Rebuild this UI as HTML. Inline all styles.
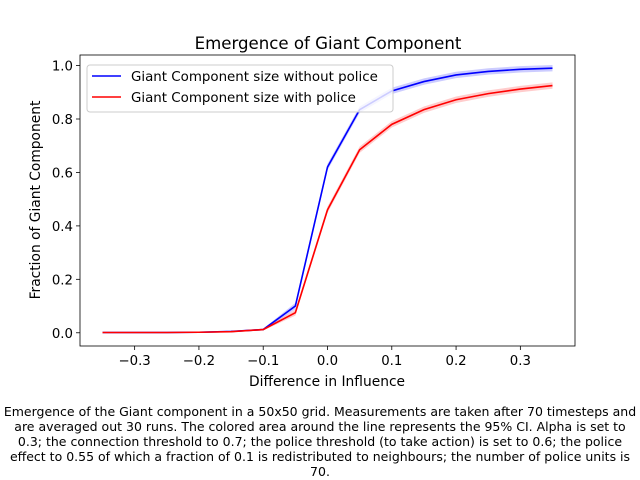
<!DOCTYPE html>
<html><head><meta charset="utf-8"><style>
body{margin:0;background:#fff;font-family:"DejaVu Sans","Liberation Sans",sans-serif}
#cap{position:absolute;left:0;top:404px;width:640px;text-align:center;font-size:12.5px;line-height:15px;color:#000;white-space:nowrap}
</style></head><body>
<svg id="chart" width="640" height="480" style="position:absolute;left:0;top:0" font-family="DejaVu Sans, Liberation Sans, sans-serif"></svg>
<div id="cap">Emergence of the Giant component in a 50x50 grid. Measurements are taken after 70 timesteps and<br>are averaged out 30 runs. The colored area around the line represents the 95% CI. Alpha is set to<br>0.3; the connection threshold to 0.7; the police threshold (to take action) is set to 0.6; the police<br>effect to 0.55 of which a fraction of 0.1 is redistributed to neighbours; the number of police units is<br>70.</div>
<script>
const xs=[-0.35,-0.3,-0.25,-0.2,-0.15,-0.1,-0.05,0,0.05,0.1,0.15,0.2,0.25,0.3,0.35];
const noPolice=[0.001,0.001,0.001,0.002,0.005,0.012,0.1,0.62,0.835,0.905,0.94,0.965,0.978,0.986,0.99];
const withPolice=[0.001,0.001,0.001,0.002,0.004,0.012,0.075,0.46,0.685,0.78,0.835,0.872,0.895,0.912,0.925];
const xTicks=[-0.3,-0.2,-0.1,0.0,0.1,0.2,0.3];
const xTickLabels=["−0.3","−0.2","−0.1","0.0","0.1","0.2","0.3"];
const yTicks=[0,0.2,0.4,0.6,0.8,1.0];
const yTickLabels=["0.0","0.2","0.4","0.6","0.8","1.0"];
const L=80,R=575,T=55,B=346;
const sx=v=>L+(v+0.385)/0.77*(R-L);
const sy=v=>B-(v+0.0495)/1.089*(B-T);
const svg=document.getElementById('chart');
const NS='http://www.w3.org/2000/svg';
function mk(t,a,p){const e=document.createElementNS(NS,t);for(const k in a)e.setAttribute(k,a[k]);(p||svg).appendChild(e);return e;}
let e;
e=mk('text',{x:328,y:49,'text-anchor':'middle','font-size':16.6});e.textContent='Emergence of Giant Component';


function series(vals,col,name){
  const w=v=>Math.min(0.012,v*0.12+0.002);
  let band=xs.map((x,i)=>sx(x)+','+sy(vals[i]+w(vals[i]))).join(' ')+' '+xs.map((x,i)=>sx(x)+','+sy(vals[i]-w(vals[i]))).reverse().join(' ');
  let b=mk('polygon',{points:band,fill:col,'fill-opacity':0.2,stroke:'none'});
  
  
  let l=mk('polyline',{points:xs.map((x,i)=>sx(x)+','+sy(vals[i])).join(' '),fill:'none',stroke:col,'stroke-width':1.6});
  
  
}
series(noPolice,'#0000ff','without-police');
series(withPolice,'#ff0000','with-police');
e=mk('rect',{x:L,y:T,width:R-L,height:B-T,fill:'none',stroke:'#000','stroke-width':0.8});


xTicks.forEach((v,i)=>{const x=sx(v);mk('line',{x1:x,x2:x,y1:B,y2:B+4,stroke:'#000','stroke-width':0.8});
 const t=mk('text',{x:x,y:B+19,'text-anchor':'middle','font-size':13.3});t.textContent=xTickLabels[i];
 
 });
yTicks.forEach((v,i)=>{const y=sy(v);mk('line',{x1:L-4,x2:L,y1:y,y2:y,stroke:'#000','stroke-width':0.8});
 const t=mk('text',{x:L-7,y:y+5,'text-anchor':'end','font-size':13.3});t.textContent=yTickLabels[i];
 
 });
e=mk('text',{x:327,y:386,'text-anchor':'middle','font-size':13.8});e.textContent='Difference in Influence';


e=mk('text',{x:40,y:200,'text-anchor':'middle','font-size':13.8,transform:'rotate(-90 40 200)'});e.textContent='Fraction of Giant Component';


const g=mk('g',{});


mk('rect',{x:87,y:65,width:306,height:47,rx:3,fill:'#fff','fill-opacity':0.8,stroke:'#ccc'},g);
[['#0000ff','Giant Component size without police',76],['#ff0000','Giant Component size with police',97]].forEach(([c,t,y])=>{
 mk('line',{x1:92,x2:121,y1:y,y2:y,stroke:c,'stroke-width':1.6},g);
 const tx=mk('text',{x:131,y:y+5,'font-size':13.4},g);tx.textContent=t;
 
 
});
</script>
</body></html>
